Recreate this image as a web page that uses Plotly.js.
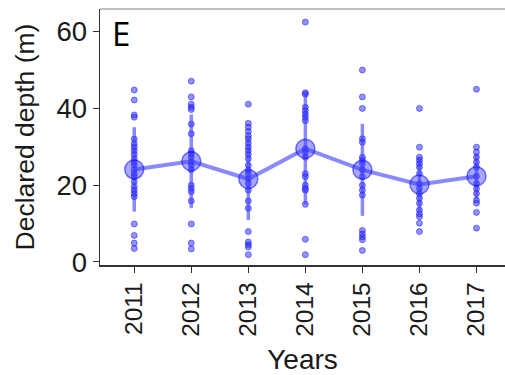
<!DOCTYPE html>
<html>
<head>
<meta charset="utf-8">
<script src="https://cdn.plot.ly/plotly-3.0.1.min.js"></script>
<style>html,body{margin:0;padding:0;background:#fff;}#chart{width:505px;height:375px;}</style>
</head>
<body>
<div id="chart"></div>
<script>
const years = ["2011", "2012", "2013", "2014", "2015", "2016", "2017"];
const d2011 = [44.8, 42.2, 38.3, 37.7, 32, 30.8, 29.9, 29, 28, 26.9, 26, 25.2, 24, 23, 22.2, 20.9, 19.6, 18.7, 17.8, 17, 9.9, 6.9, 4.9, 3.5];
const d2012 = [47.1, 43, 41.1, 40.3, 39.7, 35.9, 33.4, 29, 28.2, 27.3, 26, 25.2, 24, 20, 19.1, 18.3, 15.9, 9.9, 4.9, 3.4];
const d2013 = [41.1, 36.1, 35.1, 34, 32.9, 32.1, 31, 29.9, 29, 28, 26.9, 25.2, 23.9, 23, 21.6, 20.4, 18.7, 15.9, 14, 7.9, 5.2, 4.5, 3.9, 1.9];
const d2014 = [62.5, 44.1, 43.7, 40.3, 39.4, 38.5, 37.7, 36.8, 29.5, 28.6, 27.3, 23, 22.2, 20, 19.1, 18.7, 15, 5.9, 1.9];
const d2015 = [50, 43, 40, 32.1, 31.2, 27.3, 26.5, 25.6, 24, 22.2, 20, 18.7, 17.4, 8.2, 7.3, 6.5, 5.8, 3.0];
const d2016 = [40, 29.9, 27.3, 26.5, 25.6, 24.7, 23, 20.4, 19.1, 17.8, 16.6, 15.3, 13.5, 12.5, 11.8, 10.1, 7.9];
const d2017 = [45, 29.9, 28.6, 27.3, 26, 24.7, 22.3, 20.4, 19.1, 17.8, 16.1, 15.3, 12.9, 8.8];
const means = [24.1, 26.2, 21.6, 29.5, 24.0, 20.2, 22.3];
const sds = [11.0, 12.2, 10.7, 14.5, 12.0, 7.0, 6.0];
const yTicks = [0, 20, 40, 60];

const groups = [d2011, d2012, d2013, d2014, d2015, d2016, d2017];
const px = [], py = [];
groups.forEach((g, i) => g.forEach(v => { px.push(years[i]); py.push(v); }));

const FONT = "Liberation Sans, Arial, sans-serif";
const traces = [
  {
    type: "scatter", mode: "markers", x: px, y: py,
    marker: {size: 6, color: "rgba(40,40,255,0.5)", line: {width: 1, color: "rgba(0,0,255,0.45)"}},
    hoverinfo: "skip", showlegend: false
  },
  {
    type: "scatter", mode: "lines+markers", x: years, y: means,
    line: {color: "rgba(60,60,255,0.6)", width: 4},
    marker: {size: 19, color: "rgba(60,60,255,0.45)", line: {width: 1.5, color: "rgba(0,0,255,0.5)"}},
    error_y: {type: "data", array: sds, visible: true, color: "rgba(60,60,255,0.6)", thickness: 3.5, width: 0},
    showlegend: false
  }
];

const layout = {
  width: 505, height: 375,
  margin: {l: 100, r: 0, t: 9, b: 110},
  paper_bgcolor: "#fff", plot_bgcolor: "#fff",
  font: {family: FONT, color: "#1a1a1a"},
  xaxis: {
    type: "category", categoryarray: years, range: [-0.6, 6.5],
    showline: true, linecolor: "#333", linewidth: 1.5,
    ticks: "outside", ticklen: 6, tickcolor: "#333", tickwidth: 1,
    tickangle: -90, tickfont: {size: 24.5, family: FONT, color: "#1a1a1a"},
    showgrid: false, zeroline: false,
    title: {text: "Years", font: {size: 28, family: FONT, color: "#1a1a1a"}, standoff: 17}
  },
  yaxis: {
    range: [-0.8, 65.9], tickvals: yTicks, ticktext: yTicks.map(String),
    showline: true, linecolor: "#333", linewidth: 1.5,
    ticks: "outside", ticklen: 6, tickcolor: "#333", tickwidth: 1,
    tickfont: {size: 27.5, family: FONT, color: "#1a1a1a"},
    showgrid: false, zeroline: false,
    title: {text: "Declared depth (m)", font: {size: 26.5, family: FONT, color: "#1a1a1a"}, standoff: 14}
  },
  shapes: [
    {type: "line", xref: "paper", yref: "paper", x0: 0, x1: 1, y0: 1, y1: 1, line: {color: "#aaa", width: 1.5}}
  ],
  annotations: [
    {text: "E", xref: "paper", yref: "paper", x: 0.025, y: 1.0, xanchor: "left", yanchor: "top",
     showarrow: false, font: {size: 33, family: "Liberation Sans Narrow, Open Sans, sans-serif", color: "#000"}}
  ]
};

Plotly.newPlot("chart", traces, layout, {staticPlot: true, displayModeBar: false});
</script>
</body>
</html>
